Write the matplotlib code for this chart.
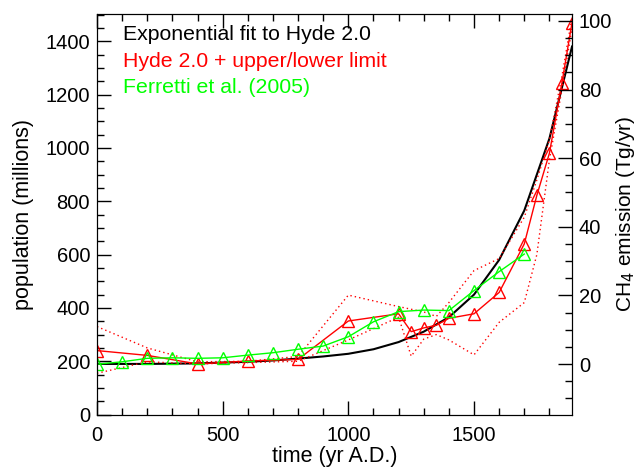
import numpy as np
import matplotlib
matplotlib.use("Agg")
import matplotlib.pyplot as plt
from matplotlib.ticker import MultipleLocator

plt.rcParams['font.family'] = ['Liberation Sans', 'DejaVu Sans']
plt.rcParams['font.size'] = 14.5

# exponential fit to Hyde 2.0 (population, millions)
fit_year = [0, 100, 200, 300, 400, 500, 600, 700, 800, 900, 1000, 1100,
            1200, 1300, 1400, 1500, 1600, 1700, 1800, 1890]
fit_pop = [190, 190, 190, 191, 192, 195, 198, 203, 210, 218, 228, 245,
           272, 311, 365, 450, 580, 765, 1035, 1380]

# Hyde 2.0 with upper / lower limit
hyde_year = [0, 200, 400, 600, 800, 1000, 1200, 1250, 1300, 1350, 1400,
             1500, 1600, 1700, 1750, 1800, 1850, 1890]
hyde_pop = [240, 222, 190, 201, 207, 351, 378, 311, 325, 335, 361,
            378, 458, 640, 822, 980, 1245, 1470]
hyde_up = [330, 250, 198, 200, 218, 448, 405, 395, 385, 368, 420,
           540, 585, 740, 880, 1030, 1270, 1490]
hyde_lo = [155, 198, 190, 195, 200, 280, 365, 219, 283, 300, 280,
           224, 346, 420, 600, 955, 1220, 1450]

# Ferretti et al. (2005)
fer_year = [0, 100, 200, 300, 400, 500, 600, 700, 800, 900, 1000, 1100,
            1200, 1300, 1400, 1500, 1600, 1700]
fer_pop = [189, 198, 211, 213, 211, 213, 223, 232, 245, 257, 292, 348,
           386, 392, 390, 465, 536, 602]

fig = plt.figure(figsize=(6.4, 4.68), dpi=100)
ax = fig.add_axes([0.1516, 0.1141, 0.7422, 0.856])

ax.plot(fit_year, fit_pop, color='black', lw=1.5)
ax.plot(hyde_year, hyde_up, color='red', lw=1, ls=(0, (1, 2.2)))
ax.plot(hyde_year, hyde_lo, color='red', lw=1, ls=(0, (1, 2.2)))
ax.plot(hyde_year, hyde_pop, color='red', lw=1, marker='^', ms=9,
        mfc='none', mec='red', mew=1)
ax.plot(fer_year, fer_pop, color='#00ff00', lw=1, marker='^', ms=9,
        mfc='none', mec='#00ff00', mew=1)

ax.set_xlim(0, 1890)
ax.set_ylim(0, 1502)
ax.xaxis.set_major_locator(MultipleLocator(500))
ax.xaxis.set_minor_locator(MultipleLocator(100))
ax.yaxis.set_major_locator(MultipleLocator(200))
ax.yaxis.set_minor_locator(MultipleLocator(50))
ax.tick_params(which='both', direction='in', top=True, right=False)
ax.tick_params(which='major', length=10, width=1)
ax.tick_params(which='minor', length=5, width=1)
ax.tick_params(axis='x', which='major', pad=8)
ax.tick_params(axis='y', which='major', pad=5)
ax.set_xlabel('time (yr A.D.)', fontsize=15.5, labelpad=1)
ax.set_ylabel('population (millions)', fontsize=15.5, labelpad=8)

ax2 = ax.twinx()
ax2.set_ylim(-14.7, 102)
ax2.yaxis.set_major_locator(MultipleLocator(20))
ax2.yaxis.set_minor_locator(MultipleLocator(5))
ax2.tick_params(which='both', direction='in')
ax2.tick_params(which='major', length=10, width=1, pad=5)
ax2.tick_params(which='minor', length=5, width=1)
ax2.set_ylabel('CH$_4$ emission (Tg/yr)', fontsize=15, labelpad=1)

ax.text(0.055, 0.935, 'Exponential fit to Hyde 2.0', color='black',
        transform=ax.transAxes, va='baseline', fontsize=15.3)
ax.text(0.055, 0.868, 'Hyde 2.0 + upper/lower limit', color='red',
        transform=ax.transAxes, va='baseline', fontsize=15.3)
ax.text(0.055, 0.802, 'Ferretti et al. (2005)', color='#00ff00',
        transform=ax.transAxes, va='baseline', fontsize=15.3)

fig.savefig('out.png', dpi=100)
